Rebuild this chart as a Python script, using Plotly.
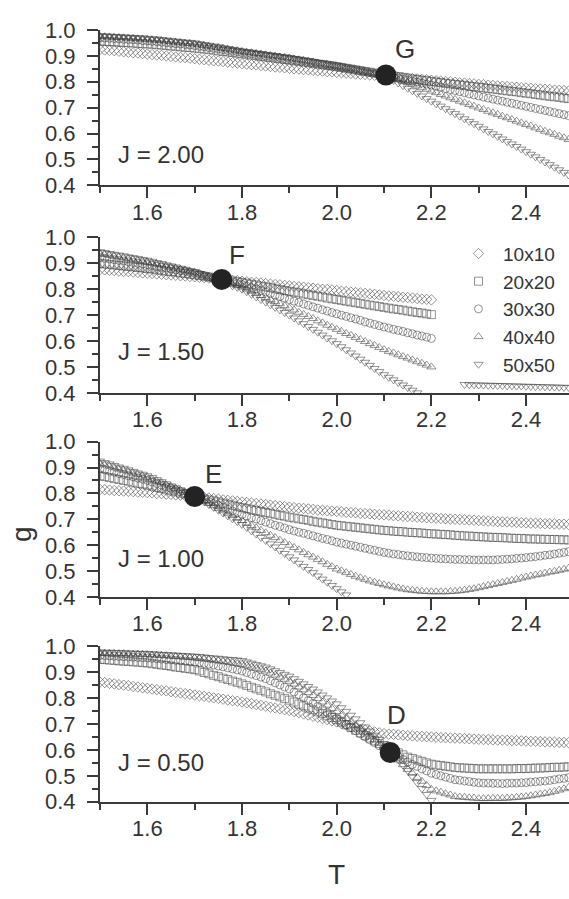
import plotly.graph_objects as go

# Temperature grid (T = 1.50 ... 2.49, step 0.01)
T = [round(1.50 + 0.01 * i, 2) for i in range(100)]

sizes = ["10x10", "20x20", "30x30", "40x40", "50x50"]
symbols = ["diamond-open", "square-open", "circle-open", "triangle-up-open", "triangle-down-open"]
J_labels = ["J = 2.00", "J = 1.50", "J = 1.00", "J = 0.50"]
J_label_g = [0.52, 0.56, 0.55, 0.55]
cross_names = ["G", "F", "E", "D"]
cross_T = [2.104, 1.757, 1.700, 2.113]
cross_g = [0.826, 0.838, 0.788, 0.590]
letter_T = [2.144, 1.789, 1.739, 2.127]
letter_g = [0.926, 0.932, 0.876, 0.734]

# ---------------- J = 2.00 ----------------
g200_10 = [.925,.923,.921,.920,.918,.916,.914,.912,.911,.909,
           .907,.905,.903,.902,.900,.898,.896,.894,.893,.891,
           .889,.887,.885,.883,.881,.880,.878,.876,.874,.872,
           .870,.868,.866,.865,.863,.861,.859,.857,.856,.854,
           .852,.850,.849,.847,.846,.844,.842,.841,.839,.838,
           .836,.835,.833,.832,.830,.829,.828,.826,.825,.823,
           .822,.820,.819,.817,.816,.814,.812,.811,.809,.808,
           .806,.804,.803,.801,.800,.798,.796,.795,.793,.792,
           .790,.789,.787,.786,.784,.783,.782,.780,.779,.777,
           .776,.775,.773,.772,.771,.770,.768,.767,.766,.764]
g200_20 = [.957,.956,.955,.954,.953,.952,.951,.950,.948,.947,
           .946,.945,.943,.942,.940,.938,.937,.935,.933,.932,
           .930,.928,.926,.924,.922,.919,.917,.915,.913,.910,
           .908,.906,.903,.901,.898,.896,.894,.891,.889,.886,
           .884,.881,.879,.876,.874,.871,.868,.866,.863,.861,
           .858,.855,.852,.849,.846,.843,.840,.837,.834,.831,
           .828,.825,.822,.820,.817,.814,.811,.809,.806,.804,
           .801,.799,.797,.794,.792,.790,.788,.786,.783,.781,
           .779,.777,.774,.772,.770,.767,.765,.763,.761,.758,
           .756,.754,.751,.749,.746,.744,.742,.740,.737,.735]
g200_30 = [.970,.969,.968,.967,.966,.964,.963,.962,.961,.959,
           .958,.956,.955,.953,.951,.949,.947,.946,.944,.942,
           .940,.937,.935,.932,.929,.927,.924,.921,.918,.916,
           .913,.910,.908,.905,.903,.900,.898,.895,.893,.890,
           .888,.885,.882,.880,.877,.874,.871,.868,.866,.863,
           .860,.857,.853,.850,.847,.843,.840,.836,.833,.829,
           .826,.822,.818,.814,.810,.806,.803,.799,.795,.791,
           .787,.783,.779,.774,.770,.766,.762,.758,.753,.749,
           .745,.741,.737,.733,.729,.725,.721,.717,.713,.709,
           .705,.701,.697,.693,.689,.685,.681,.677,.673,.669]
g200_40 = [.975,.974,.973,.972,.971,.970,.969,.968,.966,.965,
           .964,.962,.961,.959,.957,.955,.953,.951,.949,.948,
           .946,.943,.940,.937,.934,.932,.929,.926,.923,.920,
           .917,.914,.912,.909,.907,.904,.901,.899,.896,.894,
           .891,.888,.885,.882,.879,.876,.872,.869,.866,.863,
           .860,.857,.853,.850,.846,.843,.839,.836,.832,.829,
           .825,.820,.814,.808,.803,.797,.791,.784,.777,.771,
           .764,.758,.751,.745,.738,.732,.725,.719,.712,.706,
           .699,.693,.686,.680,.674,.667,.661,.654,.648,.641,
           .635,.629,.622,.616,.609,.603,.597,.590,.584,.577]
g200_50 = [.978,.977,.976,.975,.974,.973,.972,.971,.970,.969,
           .968,.966,.965,.963,.961,.959,.957,.955,.953,.952,
           .950,.947,.944,.941,.938,.935,.931,.928,.925,.922,
           .919,.916,.914,.911,.909,.906,.903,.901,.898,.896,
           .893,.890,.887,.883,.880,.877,.874,.871,.867,.864,
           .861,.858,.854,.851,.847,.844,.840,.836,.833,.829,
           .825,.815,.805,.795,.785,.775,.765,.755,.745,.735,
           .725,.715,.706,.696,.686,.677,.667,.657,.647,.638,
           .628,.618,.608,.599,.589,.579,.569,.560,.550,.540,
           .530,.520,.510,.500,.490,.480,.470,.460,.450,.440]

# ---------------- J = 1.50 ----------------
g150_10 = [.876,.875,.873,.872,.870,.869,.868,.866,.865,.863,
           .862,.861,.859,.858,.856,.855,.854,.852,.851,.849,
           .848,.846,.845,.843,.841,.840,.838,.836,.834,.833,
           .831,.829,.827,.826,.824,.822,.820,.818,.817,.815,
           .813,.811,.809,.808,.806,.804,.802,.800,.799,.797,
           .795,.793,.791,.789,.787,.786,.784,.782,.780,.778,
           .776,.774,.773,.771,.769,.768,.766,.764,.762,.761,.759]
g150_20 = [.900,.898,.896,.894,.892,.890,.888,.886,.884,.882,
           .880,.878,.875,.873,.870,.868,.866,.863,.861,.858,
           .856,.853,.850,.847,.844,.841,.838,.835,.832,.829,
           .826,.823,.819,.816,.812,.809,.806,.802,.799,.795,
           .792,.789,.786,.782,.779,.776,.773,.770,.766,.763,
           .760,.757,.754,.751,.748,.745,.742,.739,.736,.733,
           .730,.727,.724,.722,.719,.716,.713,.710,.708,.705,.702]
g150_30 = [.922,.919,.917,.914,.911,.909,.906,.903,.900,.898,
           .895,.892,.888,.885,.882,.879,.875,.872,.869,.865,
           .862,.858,.853,.849,.844,.840,.836,.831,.827,.822,
           .818,.812,.806,.801,.795,.789,.783,.777,.772,.766,
           .760,.754,.749,.743,.738,.732,.727,.721,.716,.710,
           .705,.700,.695,.690,.685,.680,.674,.669,.664,.659,
           .654,.650,.645,.641,.637,.632,.628,.623,.619,.615,.610]
g150_40 = [.937,.934,.931,.927,.924,.921,.918,.915,.911,.908,
           .905,.901,.897,.893,.889,.885,.881,.877,.873,.869,
           .865,.859,.854,.848,.842,.837,.831,.825,.819,.814,
           .808,.800,.792,.784,.776,.768,.760,.752,.744,.736,
           .728,.720,.711,.703,.695,.687,.678,.670,.661,.653,
           .645,.637,.629,.622,.614,.606,.598,.590,.583,.575,
           .567,.560,.554,.547,.540,.534,.527,.520,.514,.507,.500]
g150_50 = [.945,.942,.938,.935,.932,.929,.925,.922,.919,.915,
           .912,.908,.903,.899,.894,.890,.886,.881,.877,.872,
           .868,.861,.854,.847,.841,.834,.827,.820,.813,.807,
           .800,.790,.780,.770,.760,.750,.740,.730,.720,.710,
           .700,.689,.678,.667,.656,.645,.634,.623,.612,.601,
           .590,.578,.566,.554,.542,.530,.518,.506,.494,.482,
           .470,.460,.450,.440,.430,.420,.410,.400]
T150_50_tail = [2.27,2.28,2.29,2.30,2.31,2.32,2.33,2.34,2.35,2.36,2.37,2.38,
                2.39,2.40,2.41,2.42,2.43,2.44,2.45,2.46,2.47,2.48,2.49]
g150_50_tail = [.432,.431,.431,.430,.430,.429,.429,.428,.428,.427,.427,.426,
                .426,.425,.425,.424,.424,.423,.423,.422,.422,.421,.421]

# ---------------- J = 1.00 ----------------
g100_10 = [.815,.814,.813,.811,.810,.809,.808,.807,.805,.804,
           .803,.802,.800,.799,.797,.796,.794,.793,.791,.790,
           .788,.786,.784,.782,.780,.778,.775,.773,.771,.769,
           .767,.765,.763,.761,.759,.757,.755,.753,.751,.749,
           .747,.745,.743,.742,.740,.738,.736,.735,.733,.732,
           .730,.729,.727,.726,.725,.723,.722,.721,.719,.718,
           .717,.716,.714,.713,.712,.711,.710,.708,.707,.706,
           .705,.704,.703,.702,.701,.700,.699,.698,.697,.696,
           .695,.694,.693,.692,.691,.690,.690,.689,.688,.687,
           .686,.685,.685,.684,.683,.683,.682,.681,.681,.680]
g100_20 = [.868,.865,.861,.857,.854,.850,.847,.843,.839,.836,
           .832,.828,.823,.819,.814,.810,.806,.801,.797,.792,
           .788,.784,.779,.775,.771,.767,.762,.758,.754,.749,
           .745,.741,.737,.734,.730,.726,.723,.719,.715,.712,
           .708,.705,.702,.699,.696,.692,.689,.686,.683,.680,
           .677,.675,.673,.671,.669,.667,.665,.663,.661,.659,
           .657,.656,.654,.653,.652,.650,.649,.648,.647,.645,
           .644,.643,.642,.641,.640,.638,.637,.636,.635,.634,
           .633,.632,.631,.630,.630,.629,.628,.627,.626,.626,
           .625,.624,.624,.623,.623,.622,.622,.621,.621,.620]
g100_30 = [.895,.891,.886,.882,.877,.873,.868,.864,.859,.855,
           .850,.844,.838,.832,.826,.820,.813,.807,.801,.795,
           .789,.782,.775,.768,.761,.754,.746,.739,.732,.725,
           .718,.712,.706,.701,.695,.689,.683,.677,.672,.666,
           .660,.655,.650,.646,.641,.636,.631,.626,.622,.617,
           .612,.608,.604,.600,.596,.592,.588,.584,.580,.576,
           .572,.569,.566,.564,.561,.559,.557,.555,.553,.552,
           .550,.549,.548,.547,.546,.545,.545,.544,.544,.543,
           .543,.543,.543,.543,.544,.545,.546,.547,.549,.550,
           .552,.554,.556,.558,.561,.563,.566,.569,.572,.575]
g100_40 = [.915,.910,.905,.899,.894,.889,.883,.878,.873,.867,
           .862,.855,.848,.841,.833,.826,.819,.812,.804,.797,
           .790,.780,.771,.761,.752,.742,.733,.723,.714,.704,
           .695,.686,.676,.667,.657,.648,.638,.629,.619,.610,
           .600,.591,.582,.572,.563,.554,.545,.536,.526,.517,
           .508,.501,.494,.487,.480,.474,.468,.462,.457,.452,
           .447,.443,.439,.435,.431,.428,.426,.424,.422,.421,
           .420,.420,.420,.420,.421,.422,.424,.426,.429,.432,
           .436,.440,.444,.448,.452,.456,.460,.464,.468,.473,
           .477,.481,.485,.488,.492,.496,.499,.503,.507,.511]
g100_50 = [.925,.919,.914,.908,.902,.897,.891,.885,.879,.874,
           .868,.861,.853,.845,.837,.829,.822,.814,.806,.798,
           .790,.779,.768,.757,.746,.735,.724,.713,.702,.691,
           .680,.668,.655,.643,.630,.618,.605,.593,.580,.568,
           .555,.543,.530,.518,.506,.494,.481,.469,.457,.444,
           .432,.420,.408]

# ---------------- J = 0.50 ----------------
g050_10 = [.862,.860,.857,.855,.852,.850,.848,.845,.843,.840,
           .838,.835,.833,.830,.828,.825,.822,.820,.817,.815,
           .812,.809,.807,.804,.801,.799,.796,.793,.790,.788,
           .785,.782,.779,.775,.772,.769,.765,.762,.759,.755,
           .752,.748,.744,.739,.735,.730,.726,.721,.717,.712,
           .708,.702,.697,.691,.686,.680,.677,.673,.670,.666,
           .663,.661,.660,.658,.657,.655,.654,.653,.652,.651,
           .650,.649,.648,.647,.646,.646,.645,.644,.643,.642,
           .641,.640,.640,.639,.638,.638,.637,.636,.636,.635,
           .634,.633,.633,.632,.631,.631,.630,.629,.629,.628]
g050_20 = [.950,.949,.947,.946,.944,.943,.942,.940,.939,.937,
           .936,.933,.931,.928,.926,.923,.920,.918,.915,.913,
           .910,.905,.899,.894,.888,.883,.877,.872,.866,.861,
           .855,.849,.842,.836,.830,.824,.817,.811,.805,.798,
           .792,.785,.777,.770,.762,.755,.747,.740,.732,.725,
           .717,.707,.697,.686,.676,.666,.656,.646,.635,.625,
           .615,.606,.598,.589,.581,.572,.567,.561,.556,.550,
           .545,.542,.540,.537,.535,.532,.531,.530,.529,.528,
           .527,.527,.527,.527,.527,.527,.527,.527,.528,.528,
           .528,.529,.530,.530,.531,.532,.533,.533,.534,.535]
g050_30 = [.965,.964,.963,.962,.961,.960,.959,.958,.957,.956,
           .955,.954,.952,.951,.949,.948,.946,.944,.943,.941,
           .939,.937,.934,.931,.928,.924,.921,.917,.913,.909,
           .905,.899,.893,.887,.881,.875,.867,.859,.851,.843,
           .835,.824,.813,.802,.791,.780,.768,.757,.745,.734,
           .722,.710,.698,.686,.674,.662,.651,.639,.628,.616,
           .605,.595,.584,.574,.563,.553,.544,.536,.527,.519,
           .510,.505,.500,.495,.490,.485,.483,.480,.478,.475,
           .473,.472,.472,.471,.471,.470,.471,.472,.472,.473,
           .474,.476,.477,.479,.480,.482,.485,.488,.490,.493]
g050_40 = [.975,.974,.974,.973,.972,.972,.971,.970,.970,.969,
           .968,.967,.966,.965,.964,.962,.961,.960,.958,.957,
           .955,.953,.951,.949,.946,.944,.941,.939,.936,.933,
           .930,.925,.920,.915,.910,.905,.897,.889,.881,.873,
           .865,.854,.843,.832,.821,.810,.798,.785,.773,.760,
           .748,.734,.721,.707,.694,.680,.666,.653,.639,.626,
           .612,.595,.578,.561,.543,.525,.510,.494,.479,.463,
           .448,.442,.437,.431,.426,.420,.418,.417,.415,.414,
           .412,.412,.412,.413,.413,.413,.414,.415,.417,.418,
           .420,.423,.426,.429,.432,.435,.440,.445,.450,.455]
g050_50 = [.978,.977,.977,.976,.976,.975,.974,.974,.973,.973,
           .972,.971,.970,.969,.968,.967,.966,.965,.964,.963,
           .962,.961,.959,.957,.955,.954,.952,.950,.949,.947,
           .945,.940,.935,.930,.925,.920,.913,.906,.899,.892,
           .885,.875,.865,.855,.845,.835,.824,.812,.801,.789,
           .778,.763,.749,.734,.720,.705,.689,.673,.657,.641,
           .625,.604,.583,.562,.541,.520,.497,.474,.451,.428,
           .405]

panels = [
    [g200_10, g200_20, g200_30, g200_40, g200_50],
    [g150_10, g150_20, g150_30, g150_40, g150_50],
    [g100_10, g100_20, g100_30, g100_40, g100_50],
    [g050_10, g050_20, g050_30, g050_40, g050_50],
]

W, H = 569, 899
# pixel geometry of the four panels (top = g 1.0, bottom = g 0.4)
panel_bottom_px = [178.3, 391.7, 601.7, 812.3]
panel_h_px = 159.8
x_left_px = 100.0
x_max = 1.5 + (W - x_left_px) / 473.4

FONT = "Liberation Sans, Arial, sans-serif"
AX_COL = "#3a3a3a"
TXT_COL = "#333333"
MK_COL = "rgba(60,60,60,0.55)"

fig = go.Figure()
layout = {}
annotations = []

for p, series in enumerate(panels):
    k = p + 1
    xa = "x" if k == 1 else f"x{k}"
    ya = "y" if k == 1 else f"y{k}"
    for s, vals in enumerate(series):
        fig.add_trace(go.Scatter(
            x=T[:len(vals)], y=vals, mode="markers", xaxis=xa, yaxis=ya,
            name=sizes[s], legendgroup=sizes[s], showlegend=(p == 1),
            marker=dict(symbol=symbols[s], size=8, color=MK_COL,
                        line=dict(width=1, color=MK_COL)),
            hoverinfo="skip"))
    if p == 1:
        fig.add_trace(go.Scatter(
            x=T150_50_tail, y=g150_50_tail, mode="markers", xaxis=xa, yaxis=ya,
            name=sizes[4], legendgroup=sizes[4], showlegend=False,
            marker=dict(symbol=symbols[4], size=8, color=MK_COL,
                        line=dict(width=1, color=MK_COL)),
            hoverinfo="skip"))
    # crossing point
    fig.add_trace(go.Scatter(
        x=[cross_T[p]], y=[cross_g[p]], mode="markers", xaxis=xa, yaxis=ya,
        showlegend=False, marker=dict(size=21, color="#232323"), hoverinfo="skip"))

    bot = panel_bottom_px[p]
    top = bot - panel_h_px
    dom_y = [1 - bot / H, 1 - top / H]
    layout["xaxis" if k == 1 else f"xaxis{k}"] = dict(
        domain=[x_left_px / W, 1.0], range=[1.5, x_max], anchor=ya,
        showline=True, linecolor=AX_COL, linewidth=2, showgrid=False, zeroline=False,
        ticks="outside", ticklen=11, tickwidth=2, tickcolor=AX_COL,
        tick0=1.6, dtick=0.2, tickformat=".1f",
        minor=dict(dtick=0.1, tick0=1.5, ticks="outside", ticklen=6, tickwidth=2, tickcolor=AX_COL),
        tickfont=dict(family=FONT, size=22, color=TXT_COL), ticklabelstandoff=-5)
    layout["yaxis" if k == 1 else f"yaxis{k}"] = dict(
        domain=dom_y, range=[0.4, 1.0], anchor=xa,
        showline=True, linecolor=AX_COL, linewidth=2, showgrid=False, zeroline=False,
        ticks="outside", ticklen=11, tickwidth=2, tickcolor=AX_COL,
        tick0=0.4, dtick=0.1, tickformat=".1f",
        minor=dict(dtick=0.05, ticks="outside", ticklen=6, tickwidth=2, tickcolor=AX_COL),
        tickfont=dict(family=FONT, size=22, color=TXT_COL), ticklabelstandoff=7)
    annotations.append(dict(text=J_labels[p], xref=xa, yref=ya, x=1.534, y=J_label_g[p],
                            xanchor="left", yanchor="middle", showarrow=False,
                            font=dict(family=FONT, size=24, color=TXT_COL)))
    annotations.append(dict(text=cross_names[p], xref=xa, yref=ya, x=letter_T[p], y=letter_g[p],
                            xanchor="center", yanchor="middle", showarrow=False,
                            font=dict(family=FONT, size=26, color=TXT_COL)))

annotations.append(dict(text="g", xref="paper", yref="paper", x=21 / W, y=1 - 537 / H,
                        xanchor="center", yanchor="middle", showarrow=False, textangle=-90,
                        font=dict(family=FONT, size=28, color=TXT_COL)))
annotations.append(dict(text="T", xref="paper", yref="paper", x=337 / W, y=1 - 887 / H,
                        xanchor="center", yanchor="middle", showarrow=False,
                        font=dict(family=FONT, size=28, color=TXT_COL)))

fig.update_layout(
    width=W, height=H, margin=dict(l=0, r=0, t=0, b=0),
    paper_bgcolor="white", plot_bgcolor="white",
    annotations=annotations,
    legend=dict(x=(474 - 20) / W, y=1 - 229 / H, xanchor="left", yanchor="top",
                font=dict(family=FONT, size=19, color=TXT_COL),
                bgcolor="rgba(0,0,0,0)", tracegroupgap=0, itemwidth=39),
    **layout)

fig.write_html("out.html")
